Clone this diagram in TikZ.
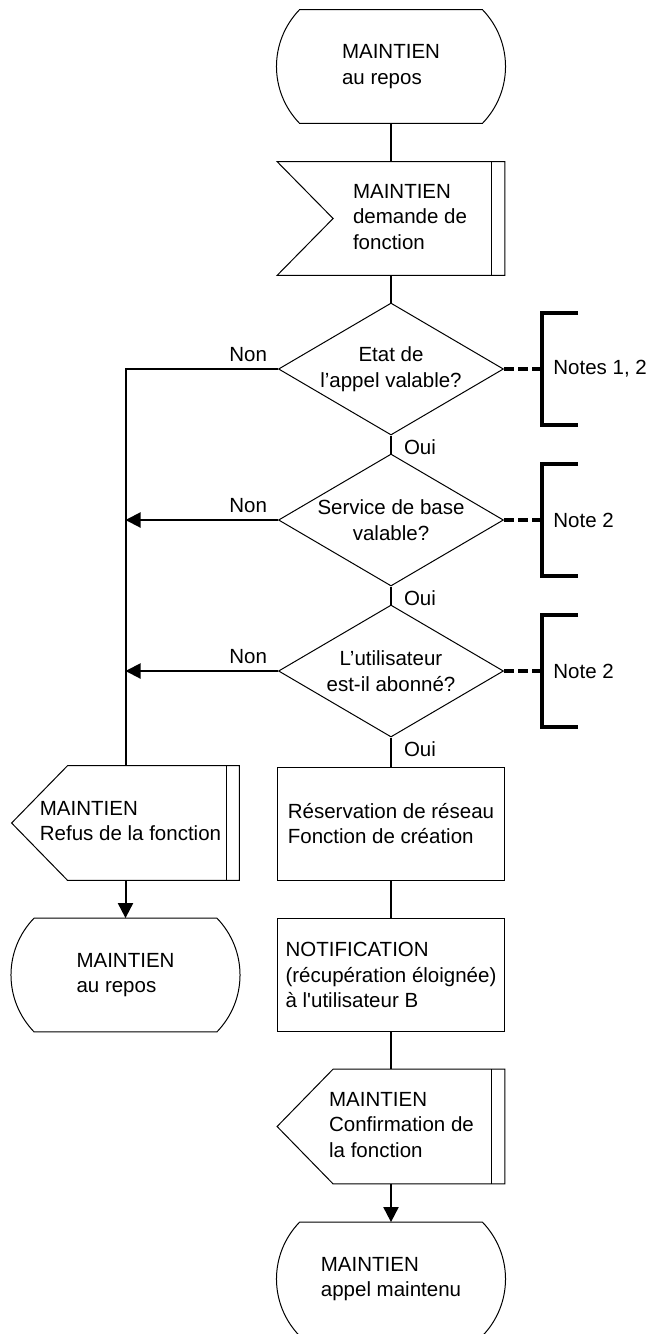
\documentclass[tikz,border=0pt]{standalone}
\usepackage{fontspec}
\setmainfont{Liberation Sans}
\usetikzlibrary{shapes}
\usetikzlibrary{positioning}
\usetikzlibrary{arrows.meta}
\tikzset{
    shapeline/.style = {line width=0.5pt,draw=black},
    termnode/.style = {rectangle, minimum width=114pt, minimum height=56.5pt, inner sep=0pt, align=left},
    boxnode/.style = {rectangle, shapeline, minimum width=113.5pt, minimum height=56.5pt, inner sep=0pt, align=left},
    insignode/.style = {rectangle, minimum width=113.5pt, minimum height=56.5pt, inner sep=0pt},
    outsignode/.style = {rectangle, minimum width=113.5pt, minimum height=57pt, inner sep=0pt},
    decnode/.style = {diamond, shapeline, minimum width=112.5pt, minimum height=66pt, aspect=1.7, inner sep=0pt, align=center},
    notenode/.style = {anchor=west, inner sep=0pt},
    nonlbl/.style = {anchor=south east, inner xsep=5pt, inner ysep=3pt},
    ouilbl/.style = {anchor=north west, inner xsep=6pt, inner ysep=1.5pt},
    edgen/.style = {line width=1pt},
    edgea/.style = {-{Triangle[length=7.5pt,width=7.5pt]},line width=1pt},
    edged/.style = {line width=2pt,dash pattern=on 5pt off 2pt}, % to notes
    brack/.style = {line width=2pt}
}
% text of a signal, pushed right by #1
\newcommand{\sigtxt}[2]{\hspace*{#1}\begin{tabular}{@{}l@{}}#2\end{tabular}}
% outlines round the nodes
\newcommand{\termline}[1]{%
  \draw[shapeline] ([xshift=11.5pt]#1.north west) -- ([xshift=-11.5pt]#1.north east)
    to[bend left=44] ([xshift=-11.5pt]#1.south east) -- ([xshift=11.5pt]#1.south west)
    to[bend left=44] ([xshift=11.5pt]#1.north west) -- cycle;}
\newcommand{\insigline}[1]{%
  \draw[shapeline] (#1.north west) -- (#1.north east) -- (#1.south east) -- (#1.south west)
    -- ([xshift=28pt]#1.west) -- cycle;
  \draw[shapeline] ([xshift=-6.5pt]#1.north east) -- ([xshift=-6.5pt]#1.south east);}
\newcommand{\outsigline}[1]{%
  \draw[shapeline] (#1.west) -- ([xshift=28pt]#1.north west) -- (#1.north east) -- (#1.south east)
    -- ([xshift=28pt]#1.south west) -- cycle;
  \draw[shapeline] ([xshift=-6.5pt]#1.north east) -- ([xshift=-6.5pt]#1.south east);}
\newcommand{\brackline}[1]{%
  \draw[brack] ([xshift=18pt,yshift=28pt]#1) -- ([yshift=28pt]#1) -- ([yshift=-28pt]#1)
    -- ([xshift=18pt,yshift=-28pt]#1);}

\begin{document}
\begin{tikzpicture}[x=0.5pt, y=-0.5pt, font=\fontsize{10.25pt}{12.75pt}\selectfont]
  \useasboundingbox (0,0) rectangle (648,1334);

  % main column
  \node[termnode] (start) at (391,66.5) {MAINTIEN\\au repos};
  \node[insignode] (dem) at (391,218.5) {\sigtxt{19pt}{MAINTIEN\\demande de\\fonction}};
  \node[decnode] (etat) at (391,369) {Etat de\\l’appel valable?};
  \node[decnode] (serv) at (391,520) {Service de base\\valable?};
  \node[decnode] (abon) at (391,671) {L’utilisateur\\est-il abonné?};
  \node[boxnode] (reserv) at (391,823.5) {Réservation de réseau\\Fonction de création};
  \node[boxnode] (notif) at (391,975) {NOTIFICATION\\(récupération éloignée)\\à l\textquotesingle utilisateur B};
  \node[outsignode] (confirm) at (391,1126.5) {\sigtxt{10.5pt}{MAINTIEN\\Confirmation de\\la fonction}};
  \node[termnode] (maint) at (391,1279) {MAINTIEN\\appel maintenu};

  % refus branch
  \node[outsignode] (refus) at (125.5,823) {\sigtxt{5pt}{MAINTIEN\\Refus de la fonction}};
  \node[termnode] (repos) at (125.5,975) {MAINTIEN\\au repos};

  % notes
  \node[notenode] (note1) at (553,369) {Notes 1, 2};
  \node[notenode] (note2) at (553,520) {Note 2};
  \node[notenode] (note3) at (553,671) {Note 2};
  \coordinate (b1) at ([xshift=-5.5pt]note1.west);
  \coordinate (b2) at ([xshift=-5.5pt]note2.west);
  \coordinate (b3) at ([xshift=-5.5pt]note3.west);

  \termline{start}
  \termline{maint}
  \termline{repos}
  \insigline{dem}
  \outsigline{confirm}
  \outsigline{refus}
  \brackline{b1}
  \brackline{b2}
  \brackline{b3}

  \draw[edgen] (start.south) -- (dem.north);
  \draw[edgen] (dem.south) -- (etat.north);
  \draw[edgen] (etat.south) node[ouilbl] {Oui} -- (serv.north);
  \draw[edgen] (serv.south) node[ouilbl] {Oui} -- (abon.north);
  \draw[edgen] (abon.south) node[ouilbl] {Oui} -- (reserv.north);
  \draw[edgen] (reserv.south) -- (notif.north);
  \draw[edgen] (notif.south) -- (confirm.north);
  \draw[edgea] (confirm.south) -- (maint.north);

  \draw[edgen] (etat.west) node[nonlbl] {Non} -| (refus.north);
  \draw[edgea] (serv.west) node[nonlbl] {Non} -- (serv.west -| refus.north);
  \draw[edgea] (abon.west) node[nonlbl] {Non} -- (abon.west -| refus.north);
  \draw[edgea] (refus.south) -- (repos.north);

  \draw[edged] (etat.east) -- (b1);
  \draw[edged] (serv.east) -- (b2);
  \draw[edged] (abon.east) -- (b3);
\end{tikzpicture}
\end{document}
